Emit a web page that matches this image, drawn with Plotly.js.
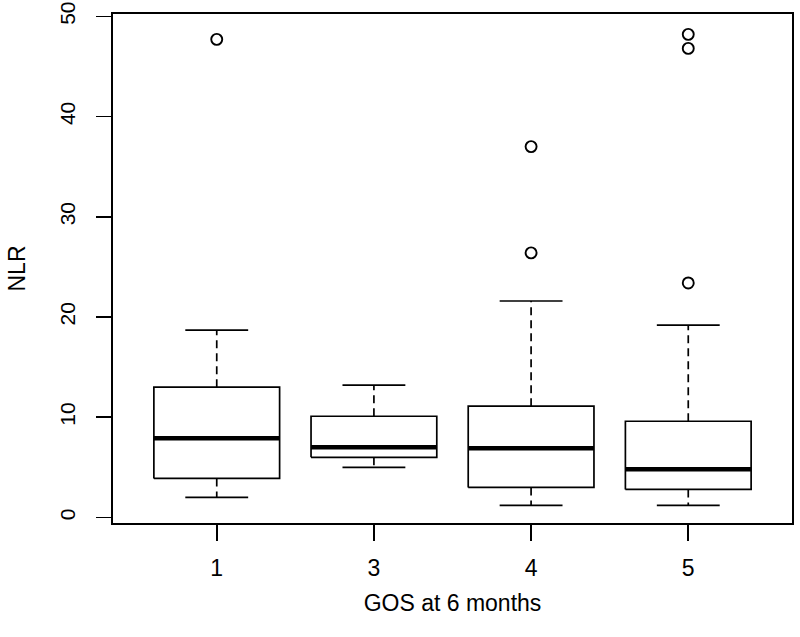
<!DOCTYPE html>
<html>
<head>
<meta charset="utf-8">
<script src="https://cdn.plot.ly/plotly-3.0.1.min.js"></script>
<style>html,body{margin:0;padding:0;background:#fff;}#chart{width:800px;height:637px;}</style>
</head>
<body>
<div id="chart"></div>
<script>
// Data (NLR by GOS at 6 months)
const categories = ['1', '3', '4', '5'];
const lowerWhisker = [2.0, 5.0, 1.2, 1.2];
const q1 = [3.9, 6.0, 3.0, 2.8];
const median = [7.9, 7.0, 6.9, 4.8];
const q3 = [13.0, 10.1, 11.1, 9.6];
const upperWhisker = [18.7, 13.2, 21.6, 19.2];
const outliers1 = [47.7];
const outliers3 = [];
const outliers4 = [37.0, 26.4];
const outliers5 = [48.2, 46.8, 23.4];
const yTicks = [0, 10, 20, 30, 40, 50];

const outlierGroups = [outliers1, outliers3, outliers4, outliers5];
const pos = categories.map((_, i) => i + 1);
const halfBox = 0.4, halfCap = 0.2;

const boxX = [], boxY = [], medX = [], medY = [], whX = [], whY = [], capX = [], capY = [];
pos.forEach((p, i) => {
  boxX.push(p - halfBox, p + halfBox, p + halfBox, p - halfBox, p - halfBox, null);
  boxY.push(q1[i], q1[i], q3[i], q3[i], q1[i], null);
  medX.push(p - halfBox, p + halfBox, null);
  medY.push(median[i], median[i], null);
  whX.push(p, p, null, p, p, null);
  whY.push(q3[i], upperWhisker[i], null, q1[i], lowerWhisker[i], null);
  capX.push(p - halfCap, p + halfCap, null, p - halfCap, p + halfCap, null);
  capY.push(upperWhisker[i], upperWhisker[i], null, lowerWhisker[i], lowerWhisker[i], null);
});
const outX = [], outY = [];
outlierGroups.forEach((g, i) => g.forEach(v => { outX.push(pos[i]); outY.push(v); }));

const black = '#000';
const traces = [
  {type: 'scatter', mode: 'lines', x: whX, y: whY, line: {color: black, width: 1.7, dash: '8px,5px'}, hoverinfo: 'skip'},
  {type: 'scatter', mode: 'lines', x: capX, y: capY, line: {color: black, width: 1.7}, hoverinfo: 'skip'},
  {type: 'scatter', mode: 'lines', x: boxX, y: boxY, line: {color: black, width: 1.7}, hoverinfo: 'skip'},
  {type: 'scatter', mode: 'lines', x: medX, y: medY, line: {color: black, width: 4.5}, hoverinfo: 'skip'},
  {type: 'scatter', mode: 'markers', x: outX, y: outY, marker: {symbol: 'circle-open', size: 11, color: black, line: {width: 1.9, color: black}}}
];

const fam = 'Liberation Sans, Arial, Helvetica, sans-serif';
const f = (s) => ({family: fam, size: s, color: '#000'});
const layout = {
  width: 800, height: 637,
  margin: {l: 113, r: 8, t: 14, b: 114},
  paper_bgcolor: '#fff', plot_bgcolor: '#fff',
  showlegend: false,
  font: f(23),
  xaxis: {
    range: [0.34, 4.66], tickmode: 'array', tickvals: pos, ticktext: categories,
    ticks: 'outside', ticklen: 16, tickwidth: 1.6, tickcolor: black,
    showline: true, mirror: true, linecolor: black, linewidth: 1.7,
    showgrid: false, zeroline: false,
    tickfont: f(23), ticklabelstandoff: 8,
    title: {text: 'GOS at 6 months', font: f(23), standoff: 14}
  },
  yaxis: {
    range: [-0.55, 50.23], tickmode: 'array', tickvals: yTicks, ticktext: yTicks.map(String),
    tickangle: -90, ticklabeloverflow: 'allow',
    ticks: 'outside', ticklen: 15, tickwidth: 1.6, tickcolor: black,
    showline: true, mirror: true, linecolor: black, linewidth: 1.7,
    showgrid: false, zeroline: false,
    tickfont: f(21), ticklabelstandoff: 13,
    title: {text: 'NLR', font: f(23), standoff: 24}
  }
};
Plotly.newPlot('chart', traces, layout, {staticPlot: true, displayModeBar: false});
</script>
</body>
</html>
